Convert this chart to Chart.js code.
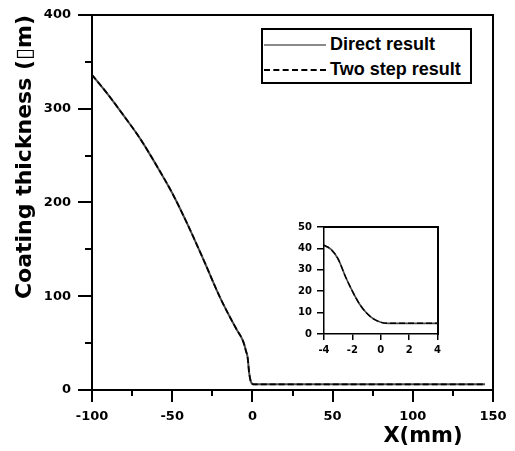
<!DOCTYPE html>
<html>
<head>
<meta charset="utf-8">
<script src="https://cdn.jsdelivr.net/npm/chart.js@4.4.1/dist/chart.umd.min.js"></script>
<style>
  html, body { margin: 0; padding: 0; background: #fff; }
  #wrap { position: relative; width: 515px; height: 451px; overflow: hidden; }
  #main { position: absolute; left: 0; top: 0; }
  #inset { position: absolute; left: 280px; top: 212px; }
  #legend {
    position: absolute; left: 261px; top: 28px; width: 207px; height: 52px;
    border: 2px solid #000; background: #fff;
    font: bold 18px "Liberation Sans", Arial, sans-serif; color: #000;
  }
  .row { position: absolute; left: 0; height: 20px; line-height: 20px; white-space: nowrap; }
  .row .txt { position: absolute; left: 67px; top: 0; }
  .row .smp { position: absolute; left: 1px; top: 10px; width: 62px; height: 0; }
</style>
</head>
<body>
<div id="wrap">
  <canvas id="main" width="515" height="451"></canvas>
  <canvas id="inset" width="165" height="155"></canvas>
  <div id="legend">
    <div class="row" style="top:4px"><span class="smp" style="border-top:2px solid #8a8a8a"></span><span class="txt">Direct result</span></div>
    <div class="row" style="top:29px"><span class="smp" style="border-top:2px dashed #000"></span><span class="txt">Two step result</span></div>
  </div>
</div>
<script>
// ---- data ----
const seriesNames = ['Direct result', 'Two step result'];
const xTitle = 'X(mm)';
const yTitle = 'Coating thickness (\u25AFm)';

// main plot, x in mm, thickness in um
const mainX = [-100, -90, -80, -70, -60, -50, -40, -30, -20, -10, -6, -5, -4, -3, -2, -1, 0, 1, 2, 5, 20, 50, 100, 145];
const directY = [336, 315, 292, 268, 240, 210, 175, 137, 98, 65, 53, 48, 41.5, 35, 18, 9, 6.5, 6, 6, 6, 6, 6, 6, 6];
const twoStepY = [336, 315, 292, 268, 240, 210, 175, 137, 98, 65, 53, 48, 41.5, 35, 18, 9, 6.5, 6, 6, 6, 6, 6, 6, 6];

// inset, zoom on -4..4 mm
const insetX = [-4, -3.5, -3, -2.5, -2, -1.5, -1, -0.5, 0, 0.5, 1, 2, 3, 4];
const insetDirectY = [41.5, 39.5, 35, 27, 20, 14, 9.8, 7, 5.5, 5, 5, 5, 5, 5];
const insetTwoStepY = [41.5, 39.5, 35, 27, 20, 14, 9.8, 7, 5.5, 5, 5, 5, 5, 5];

const mainXTicks = { min: -100, max: 150, major: 50, minor: 25 };
const mainYTicks = { min: 0, max: 400, major: 100, minor: 50 };
const insetXTicks = { min: -4, max: 4, step: 2 };
const insetYTicks = { min: 0, max: 50, step: 10 };

// ---- helpers ----
const pts = (xs, ys) => xs.map((x, i) => ({ x, y: ys[i] }));
const tickFont = size => ({ family: 'DejaVu Sans', weight: 'bold', size });

// dashed black two-step curve drawn over the grey direct one (lower order = on top)
function makeDatasets(xs, dY, tY, w) {
  return [
    { label: seriesNames[0], data: pts(xs, dY), borderColor: '#4a4a4a', borderWidth: w,
      pointRadius: 0, fill: false, cubicInterpolationMode: 'monotone', order: 1 },
    { label: seriesNames[1], data: pts(xs, tY), borderColor: '#000', borderWidth: w - 0.3,
      borderDash: [6, 3], pointRadius: 0, fill: false, cubicInterpolationMode: 'monotone', order: 0 }
  ];
}

// plain frame line (top / right) placed on a data value
function frameAxis(pos, min, max) {
  return {
    type: 'linear', position: pos, min, max,
    ticks: { display: false },
    grid: { drawOnChartArea: false, drawTicks: false },
    border: { display: true, color: '#000', width: 2 }
  };
}

const axisTitles = {
  id: 'axisTitles',
  afterDraw(chart) {
    const ctx = chart.ctx;
    ctx.save();
    ctx.fillStyle = '#000';
    ctx.textAlign = 'center';
    ctx.textBaseline = 'middle';
    ctx.font = 'bold 21px "DejaVu Sans"';
    ctx.fillText(xTitle, 423, 437);
    ctx.translate(25, 157);
    ctx.rotate(-Math.PI / 2);
    ctx.font = 'bold 22px "DejaVu Sans"';
    ctx.fillText(yTitle, 0, 0);
    ctx.restore();
  }
};

// ---- main chart ----
new Chart(document.getElementById('main'), {
  type: 'line',
  data: { datasets: makeDatasets(mainX, directY, twoStepY, 2) },
  plugins: [axisTitles],
  options: {
    responsive: false, animation: false, devicePixelRatio: 1,
    layout: { padding: { top: 13, right: 22, left: 0, bottom: 0 } },
    plugins: { legend: { display: false }, tooltip: { enabled: false } },
    scales: {
      x: {
        type: 'linear', position: 'bottom', min: mainXTicks.min, max: mainXTicks.max,
        ticks: { stepSize: mainXTicks.major, font: tickFont(13), color: '#000', padding: 7, maxRotation: 0, autoSkip: false },
        grid: { drawOnChartArea: false, tickLength: 12, color: '#000', lineWidth: 2 },
        border: { color: '#000', width: 2 },
        afterFit(s) { s.height = 61; }
      },
      y: {
        type: 'linear', position: 'left', min: mainYTicks.min, max: mainYTicks.max,
        ticks: { stepSize: mainYTicks.major, font: tickFont(13), color: '#000', padding: 7 },
        grid: { drawOnChartArea: false, tickLength: 14, color: '#000', lineWidth: 2 },
        border: { color: '#000', width: 2 },
        afterFit(s) { s.width = 92; }
      },
      xMinor: {
        type: 'linear', position: { y: 0 }, min: mainXTicks.min, max: mainXTicks.max,
        ticks: { stepSize: mainXTicks.minor, display: false },
        grid: { drawOnChartArea: false, tickLength: 6, color: '#000', lineWidth: 2 },
        border: { display: false }
      },
      yMinor: {
        type: 'linear', position: { x: -100 }, min: mainYTicks.min, max: mainYTicks.max,
        ticks: { stepSize: mainYTicks.minor, display: false },
        grid: { drawOnChartArea: false, tickLength: 7, color: '#000', lineWidth: 2 },
        border: { display: false }
      },
      xTop: frameAxis({ y: 400 }, mainXTicks.min, mainXTicks.max),
      yRight: frameAxis({ x: 150 }, mainYTicks.min, mainYTicks.max)
    }
  }
});

// ---- inset chart ----
new Chart(document.getElementById('inset'), {
  type: 'line',
  data: { datasets: makeDatasets(insetX, insetDirectY, insetTwoStepY, 1.7) },
  options: {
    responsive: false, animation: false, devicePixelRatio: 1,
    layout: { padding: { top: 15, right: 7, left: 0, bottom: 0 } },
    plugins: { legend: { display: false }, tooltip: { enabled: false } },
    scales: {
      x: {
        type: 'linear', position: 'bottom', min: insetXTicks.min, max: insetXTicks.max,
        ticks: { stepSize: insetXTicks.step, font: tickFont(10), color: '#000', padding: 4, maxRotation: 0, autoSkip: false },
        grid: { drawOnChartArea: false, tickLength: 6, color: '#000', lineWidth: 1.5 },
        border: { color: '#000', width: 1.5 },
        afterFit(s) { s.height = 33; }
      },
      y: {
        type: 'linear', position: 'left', min: insetYTicks.min, max: insetYTicks.max,
        ticks: { stepSize: insetYTicks.step, font: tickFont(10), color: '#000', padding: 5 },
        grid: { drawOnChartArea: false, tickLength: 7, color: '#000', lineWidth: 1.5 },
        border: { color: '#000', width: 1.5 },
        afterFit(s) { s.width = 44; }
      },
      xTop: frameAxis({ y: 50 }, insetXTicks.min, insetXTicks.max),
      yRight: frameAxis({ x: 4 }, insetYTicks.min, insetYTicks.max)
    }
  }
});
</script>
</body>
</html>
